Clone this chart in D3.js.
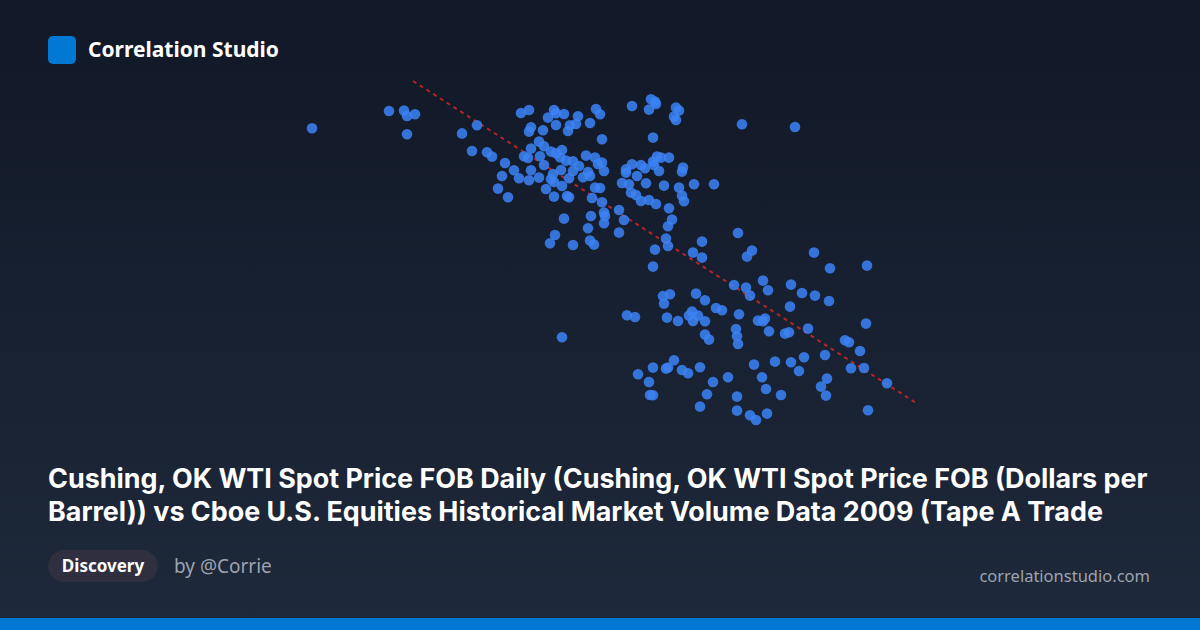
<!DOCTYPE html>
<html>
<head>
<meta charset="utf-8">
<script src="https://cdn.jsdelivr.net/npm/d3@7"></script>
<style>
  html, body { margin: 0; padding: 0; background: #111827; }
  svg { display: block; }
</style>
</head>
<body>
<svg id="chart" width="1200" height="630"></svg>
<script>
// WTI spot price (USD per barrel)
const wtiPrice = [
  29.9,37.6,39.1,39.4,40.2,39.4,44.9,46.4,50.8,51.6,54.1,54.3,53.5,55.1,56.5,58.3,58.7,56.3,55.7,54.3,
  55.5,53.0,51.8,51.6,57.7,58.9,52.6,51.8,53.1,45.9,47.4,47.9,49.2,51.1,51.5,52.7,53.8,54.3,54.9,54.7,
  53.1,51.8,50.1,48.9,50.6,51.6,52.6,54.0,53.8,54.8,55.3,56.0,56.6,57.3,58.2,58.5,58.9,59.1,57.5,57.0,
  57.7,56.0,55.6,54.9,54.1,53.3,54.1,55.4,55.6,48.5,49.5,58.2,58.7,57.9,58.9,59.1,59.2,59.1,57.8,57.5,
  55.1,54.2,53.7,56.0,57.7,58.1,60.6,60.6,60.9,61.9,63.8,64.2,64.3,63.6,66.3,66.6,66.1,66.3,72.9,64.0,
  61.9,62.8,63.2,64.0,64.4,64.8,65.6,64.1,61.3,61.3,64.6,67.0,66.9,62.4,61.6,63.3,65.1,66.6,68.1,70.1,
  61.8,62.3,62.8,63.6,64.3,66.9,67.1,65.6,65.9,65.5,61.1,65.3,65.5,64.2,68.9,68.0,68.9,64.0,72.5,73.9,
  73.4,78.2,80.1,72.1,73.3,73.7,75.0,75.5,65.0,65.7,65.1,68.3,69.2,61.4,62.2,65.4,66.5,67.6,67.9,68.5,
  68.0,69.2,70.3,70.9,72.6,75.2,74.5,75.0,75.6,72.3,72.4,72.5,69.2,69.6,66.1,64.0,65.3,65.5,66.9,67.5,
  68.7,62.5,63.6,63.7,64.0,70.0,71.5,69.4,68.7,72.4,72.4,73.7,74.3,75.4,74.1,74.9,75.3,76.2,76.8,81.7,
  85.4,77.8,78.9,80.2,81.6,77.7,77.2,77.6,79.5,85.3,83.2,83.6,84.7,81.2,79.1,77.8,78.6,83.8,85.1,87.4,
  81.4,80.8,81.3,85.5,54.9
];
// Cboe Tape A trade volume (index units)
const tapeATrades = [
  160.9,169.5,169.7,167.0,167.9,157.9,158.3,162.4,168.5,170.0,170.0,168.4,166.2,168.0,166.9,170.5,167.9,163.0,162.4,162.5,
  159.5,159.9,161.4,159.2,163.5,155.4,154.2,150.7,151.9,149.5,148.9,146.7,143.5,146.9,146.0,146.9,149.2,148.4,150.0,146.4,
  142.5,139.9,139.9,137.0,135.9,134.9,136.2,138.0,135.4,140.0,144.7,144.4,142.0,147.2,146.2,143.0,143.7,139.5,139.0,136.4,
  137.0,139.5,135.9,132.0,134.0,130.5,126.7,127.0,126.4,130.7,126.4,131.2,131.0,126.0,123.9,118.7,117.0,113.4,117.0,110.9,
  115.7,107.5,103.4,102.5,104.7,102.7,120.0,108.7,133.5,172.0,175.4,174.2,173.0,170.2,171.2,169.7,166.7,165.0,162.9,156.2,
  142.9,142.5,140.9,144.2,146.7,146.2,146.2,142.5,140.4,138.7,139.5,141.2,139.2,137.0,132.9,133.4,132.2,131.2,132.9,132.9,
  128.7,127.5,124.5,125.0,123.0,127.2,124.4,120.9,115.2,111.9,115.0,105.7,102.0,100.2,104.2,98.7,96.2,91.7,108.5,99.7,
  96.7,161.5,98.7,82.5,81.2,77.2,84.7,79.9,77.0,77.9,73.2,78.2,74.9,67.4,66.5,66.2,64.5,67.2,69.2,67.2,
  64.5,64.4,71.0,69.9,67.9,65.7,64.7,64.4,59.4,60.5,56.9,53.0,57.7,55.2,44.9,41.2,40.7,41.2,40.0,38.4,
  41.4,37.9,34.0,27.5,27.4,34.0,36.4,27.9,21.7,26.7,19.7,17.4,15.0,18.2,42.7,36.4,30.5,44.2,27.5,90.9,
  92.2,82.7,78.5,77.2,74.5,71.7,58.2,58.9,60.7,63.2,54.9,53.9,49.5,47.5,46.4,43.9,39.5,40.9,41.0,33.4,
  35.7,31.7,27.2,19.9,56.4
];
// Fitted trend line (price range and coefficients)
const trendPrice = [40.0, 90.3];
const trendCoef = [312.5, -3.2]; // intercept, slope

const brandName = ["Correlation Studio"];
const titleLines = [
  "Cushing, OK WTI Spot Price FOB Daily (Cushing, OK WTI Spot Price FOB (Dollars per",
  "Barrel)) vs Cboe U.S. Equities Historical Market Volume Data 2009 (Tape A Trade"
];
const badgeText = ["Discovery"];
const authorText = ["by @Corrie"];
const siteText = ["correlationstudio.com"];

const W = 1200, H = 630;
const svg = d3.select("#chart");
const defs = svg.append("defs");
const grad = defs.append("linearGradient").attr("id", "bg").attr("x1", 0).attr("y1", 0).attr("x2", 0).attr("y2", 1);
grad.append("stop").attr("offset", "0%").attr("stop-color", "#111827");
grad.append("stop").attr("offset", "100%").attr("stop-color", "#1e293b");
svg.append("rect").attr("width", W).attr("height", H).attr("fill", "url(#bg)");

const FONT = "'Noto Sans', 'Open Sans', sans-serif";
const TITLE_FONT = "Inter, 'Noto Sans', sans-serif";

// header
svg.append("rect").attr("x", 48).attr("y", 36).attr("width", 28).attr("height", 28).attr("rx", 5).attr("fill", "#0078d4");
svg.append("text").attr("x", 88).attr("y", 57).text(brandName[0])
  .attr("font-family", FONT).attr("font-weight", 700).attr("font-size", 21).attr("fill", "#ffffff");

// scales
const x = d3.scaleLinear().domain([30, 90]).range([313, 913]);
const y = d3.scaleLinear().domain([0, 200]).range([450, 50]);

const pts = wtiPrice.map((p, i) => ({ p, v: tapeATrades[i] }));

// trend line
const line = d3.line().x(d => x(d)).y(d => y(trendCoef[0] + trendCoef[1] * d));
svg.append("path").datum(trendPrice).attr("d", line)
  .attr("fill", "none").attr("stroke", "#dc2626").attr("stroke-width", 2)
  .attr("stroke-dasharray", "4,4").attr("opacity", 0.8);

// points
svg.append("g").selectAll("circle").data(pts).join("circle")
  .attr("cx", d => x(d.p)).attr("cy", d => y(d.v)).attr("r", 5.3)
  .attr("fill", "#3b82f6").attr("fill-opacity", 0.85);

// title (font size fitted so the first line spans the same width as the reference)
const titleSel = svg.append("g").selectAll("text").data(titleLines).join("text")
  .attr("x", 48).attr("y", (d, i) => 488 + i * 33)
  .attr("font-family", TITLE_FONT).attr("font-weight", 700).attr("font-size", 25).attr("fill", "#ffffff")
  .text(d => d);
const w0 = titleSel.node().getComputedTextLength();
if (w0 > 0) {
  const fs = Math.min(27, 25 * 1100 / w0);
  titleSel.attr("font-size", fs);
}

// footer
svg.append("rect").attr("x", 48).attr("y", 550).attr("width", 110).attr("height", 32).attr("rx", 16).attr("fill", "#2f2f3f");
svg.append("text").attr("x", 103).attr("y", 572).attr("text-anchor", "middle").text(badgeText[0])
  .attr("font-family", FONT).attr("font-weight", 700).attr("font-size", 17).attr("fill", "#ffffff");
svg.append("text").attr("x", 174).attr("y", 573).text(authorText[0])
  .attr("font-family", FONT).attr("font-size", 19).attr("fill", "#9ca3af");
svg.append("text").attr("x", 1150).attr("y", 582).attr("text-anchor", "end").text(siteText[0])
  .attr("font-family", FONT).attr("font-size", 16.5).attr("fill", "#9ca3af");

svg.append("rect").attr("x", 0).attr("y", 618).attr("width", W).attr("height", 12).attr("fill", "#0078d4");
</script>
</body>
</html>
